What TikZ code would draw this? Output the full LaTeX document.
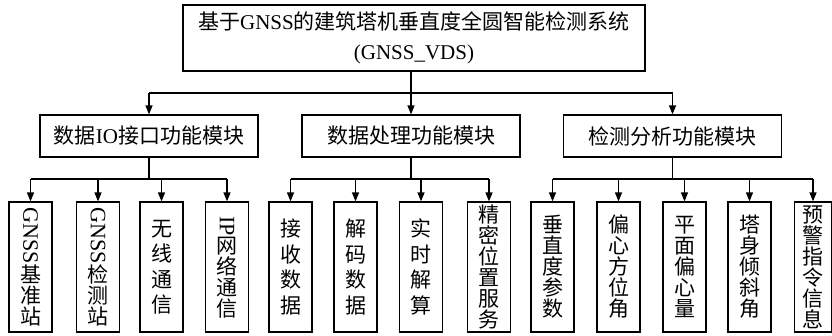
\documentclass[tikz,border=0pt]{standalone}
\usepackage{fontspec}
\setmainfont{Liberation Serif}
\newfontfamily\cjk{Noto Sans CJK SC}
\usetikzlibrary{arrows.meta}
\newcommand\rlat[1]{{\rmfamily\fontsize{22}{22}\selectfont\rotatebox{-90}{#1}}}
\begin{document}
\begin{tikzpicture}[x=1pt,y=1pt,
  box/.style={draw,line width=1.2pt,inner sep=0pt},
  leaf/.style={box,minimum width=43,minimum height=130,align=center},
  lfa/.style={font=\cjk\fontsize{21}{25.5}\selectfont},
  lfb/.style={font=\cjk\fontsize{21}{21}\selectfont},
  modbox/.style={box,minimum width=218,minimum height=42,font=\fontsize{21}{25}\selectfont},
  arr/.style={line width=1.2pt,-{Triangle[length=9pt,width=7pt]}},
  ln/.style={line width=1.2pt}]
\useasboundingbox (0,0) rectangle (832,-335);
\fill[white] (0,0) rectangle (832,-335);

% top
\node[box,minimum width=462,minimum height=66,align=center,font=\fontsize{21}{30}\selectfont] (top) at (414,-38)
  {{\cjk 基于}GNSS{\cjk 的建筑塔机垂直度全圆智能检测系统}\\(GNSS\_VDS)};

% modules
\node[modbox] (m1) at (149,-136) {{\cjk 数据}IO{\cjk 接口功能模块}};
\node[modbox] (m2) at (411,-136) {{\cjk 数据处理功能模块}};
\node[modbox] (m3) at (672.5,-136) {{\cjk 检测分析功能模块}};

% leaves
\node[leaf,lfb] (l1) at (30.5,-267) {\rlat{GNSS}\\基\\准\\站};
\node[leaf,lfb] (l2) at (98,-267) {\rlat{GNSS}\\检\\测\\站};
\node[leaf,lfa] (l3) at (161.5,-267) {无\\线\\通\\信};
\node[leaf,lfb] (l4) at (227,-267) {\rlat{IP}\\网\\络\\通\\信};
\node[leaf,lfa] (l5) at (290.5,-267) {接\\收\\数\\据};
\node[leaf,lfa] (l6) at (355.5,-267) {解\\码\\数\\据};
\node[leaf,lfa] (l7) at (421,-267) {实\\时\\解\\算};
\node[leaf,lfb] (l8) at (489,-267) {精\\密\\位\\置\\服\\务};
\node[leaf,lfb] (l9) at (552.5,-267) {垂\\直\\度\\参\\数};
\node[leaf,lfb] (l10) at (618.5,-267) {偏\\心\\方\\位\\角};
\node[leaf,lfb] (l11) at (684.5,-267) {平\\面\\偏\\心\\量};
\node[leaf,lfb] (l12) at (749.5,-267) {塔\\身\\倾\\斜\\角};
\node[leaf,lfb,minimum width=37] (l13) at (813,-267) {预\\警\\指\\令\\信\\息};

% top level connectors
\coordinate (b0) at (0,-93);
\draw[arr] (m2.north |- top.south) -- (m2.north);
\draw[ln] (m1.north |- b0) -- (m3.north |- b0);
\draw[arr] (m1.north |- b0) -- (m1.north);
\draw[arr] (m3.north |- b0) -- (m3.north);

% module buses
\coordinate (b1) at (0,-179);
\draw[ln] (m1.south) -- (m1.south |- b1);
\draw[ln] (m2.south) -- (m2.south |- b1);
\draw[ln] (m3.south) -- (m3.south |- b1);
\draw[ln] (l1.north |- b1) -- (l4.north |- b1);
\draw[ln] (l5.north |- b1) -- (l8.north |- b1);
\draw[ln] (l9.north |- b1) -- (l13.north |- b1);
\foreach \i in {1,...,13}{
  \draw[arr] (l\i.north |- b1) -- (l\i.north);
}
\end{tikzpicture}
\end{document}
